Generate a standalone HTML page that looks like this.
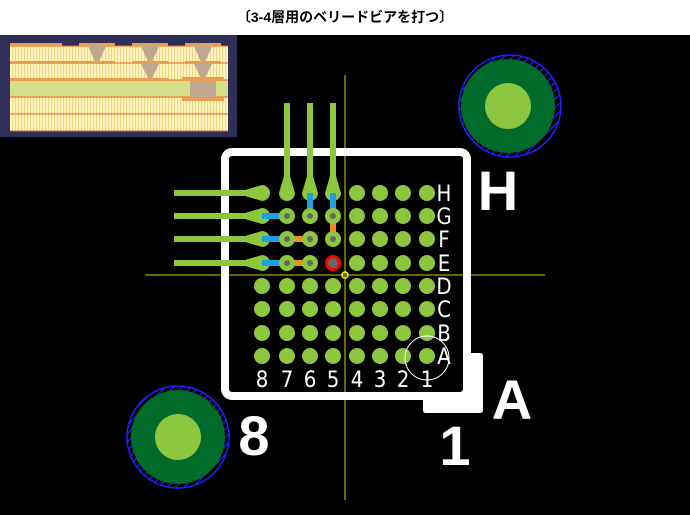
<!DOCTYPE html>
<html><head><meta charset="utf-8"><style>
body{margin:0;width:690px;height:515px;background:#000;overflow:hidden;position:relative;font-family:"Liberation Sans","Noto Sans CJK JP",sans-serif}
#title{position:absolute;left:0;top:0;width:690px;height:35px;background:#fff;text-align:center;font-weight:bold;font-size:14px;line-height:34px;color:#000;font-family:"Liberation Sans","Noto Sans CJK JP",sans-serif}
</style></head><body>
<div id="title">〔3-4層用のベリードビアを打つ〕</div>
<svg width="690" height="515" style="position:absolute;left:0;top:0" xmlns="http://www.w3.org/2000/svg">
<defs>
<pattern id="st" width="3" height="10" patternUnits="userSpaceOnUse"><rect width="3" height="10" fill="#fff6c8"/><rect width="1.2" height="10" fill="#f0d880"/></pattern>
<pattern id="hb" width="6" height="6" patternUnits="userSpaceOnUse" patternTransform="rotate(45)"><rect width="1.3" height="6" fill="#2020ff"/></pattern>
</defs>
<rect x="0" y="35" width="237" height="102" fill="#2f2f58"/>
<rect x="10" y="46" width="218" height="85" fill="url(#st)"/>
<rect x="10" y="80" width="218" height="17" fill="#d6e08a"/>
<g stroke="#f06020" stroke-width="1"><line x1="10" y1="46" x2="228" y2="46"/><line x1="10" y1="63" x2="228" y2="63"/><line x1="10" y1="80" x2="228" y2="80"/><line x1="10" y1="97" x2="228" y2="97"/><line x1="10" y1="114" x2="228" y2="114"/><line x1="10" y1="131" x2="228" y2="131"/></g>
<g fill="#e8a050"><rect x="10" y="43" width="52" height="3"/><rect x="79" y="43" width="36" height="3"/><rect x="132" y="43" width="36" height="3"/><rect x="185" y="43" width="36" height="3"/>
<rect x="10" y="61" width="105" height="3"/><rect x="132" y="61" width="36" height="3"/><rect x="185" y="61" width="36" height="3"/>
<rect x="10" y="78" width="158" height="3"/><rect x="182" y="77" width="42" height="4"/><rect x="182" y="97" width="42" height="4"/></g>
<g fill="#c0a890"><polygon points="88,46 106,46 99,62 95,62"/><polygon points="141,46 159,46 152,62 148,62"/><polygon points="194,46 212,46 205,62 201,62"/><polygon points="141,64 159,64 152,78 148,78"/><polygon points="194,64 212,64 205,78 201,78"/><rect x="190" y="81" width="26" height="16"/></g>
<circle cx="510" cy="106" r="51" fill="url(#hb)" stroke="#2020ff" stroke-width="1.5"/>
<circle cx="508" cy="106" r="47" fill="#006b2a"/><circle cx="508" cy="106" r="23" fill="#8dc63f"/>
<circle cx="178" cy="437" r="51" fill="url(#hb)" stroke="#2020ff" stroke-width="1.5"/>
<circle cx="178" cy="437" r="47" fill="#006b2a"/><circle cx="178" cy="437" r="23" fill="#8dc63f"/>
<g stroke="#8a8a00" stroke-width="1.5"><line x1="345" y1="75" x2="345" y2="500"/><line x1="145" y1="275" x2="545" y2="275"/></g>
<rect x="225" y="152" width="242" height="244" rx="7" fill="none" stroke="#fff" stroke-width="8"/>
<path d="M463 353 H480 Q483 353 483 356 V410 Q483 413 480 413 H426 Q423 413 423 410 V392 H463 Z" fill="#fff"/>
<g stroke="#8dc63f" stroke-width="6"><line x1="174" y1="193" x2="262" y2="193"/><line x1="174" y1="216" x2="262" y2="216"/><line x1="174" y1="239" x2="262" y2="239"/><line x1="174" y1="263" x2="262" y2="263"/>
<line x1="287" y1="103" x2="287" y2="193"/><line x1="310" y1="103" x2="310" y2="193"/><line x1="333" y1="103" x2="333" y2="193"/></g>
<g fill="#8dc63f"><path d="M245 190 L262 185 A8 8 0 1 1 262 201 L245 196Z"/><path d="M245 213 L262 208 A8 8 0 1 1 262 224 L245 219Z"/><path d="M245 236 L262 231 A8 8 0 1 1 262 247 L245 242Z"/><path d="M245 260 L262 255 A8 8 0 1 1 262 271 L245 266Z"/>
<path d="M284 176 L279 193 A8 8 0 1 0 295 193 L290 176Z"/><path d="M307 176 L302 193 A8 8 0 1 0 318 193 L313 176Z"/><path d="M330 176 L325 193 A8 8 0 1 0 341 193 L336 176Z"/></g>
<g stroke="#1ea0e0" stroke-width="6"><line x1="262" y1="216" x2="287" y2="216"/><line x1="262" y1="239" x2="287" y2="239"/><line x1="262" y1="263" x2="287" y2="263"/><line x1="310" y1="193" x2="310" y2="216"/><line x1="333" y1="193" x2="333" y2="216"/></g>
<g stroke="#f08c28" stroke-width="6"><line x1="287" y1="239" x2="310" y2="239"/><line x1="287" y1="263" x2="310" y2="263"/><line x1="333" y1="216" x2="333" y2="239"/></g>
<g fill="#8dc63f">
<circle cx="357" cy="193" r="8"/><circle cx="380" cy="193" r="8"/><circle cx="403" cy="193" r="8"/><circle cx="427" cy="193" r="8"/>
<circle cx="287" cy="216" r="8"/><circle cx="310" cy="216" r="8"/><circle cx="333" cy="216" r="8"/><circle cx="357" cy="216" r="8"/><circle cx="380" cy="216" r="8"/><circle cx="403" cy="216" r="8"/><circle cx="427" cy="216" r="8"/>
<circle cx="287" cy="239" r="8"/><circle cx="310" cy="239" r="8"/><circle cx="333" cy="239" r="8"/><circle cx="357" cy="239" r="8"/><circle cx="380" cy="239" r="8"/><circle cx="403" cy="239" r="8"/><circle cx="427" cy="239" r="8"/>
<circle cx="287" cy="263" r="8"/><circle cx="310" cy="263" r="8"/><circle cx="357" cy="263" r="8"/><circle cx="380" cy="263" r="8"/><circle cx="403" cy="263" r="8"/><circle cx="427" cy="263" r="8"/>
</g>
<g fill="#8dc63f">
<g id="r"><circle cx="262" cy="286" r="8"/><circle cx="287" cy="286" r="8"/><circle cx="310" cy="286" r="8"/><circle cx="333" cy="286" r="8"/><circle cx="357" cy="286" r="8"/><circle cx="380" cy="286" r="8"/><circle cx="403" cy="286" r="8"/><circle cx="427" cy="286" r="8"/></g>
<use href="#r" y="23"/><use href="#r" y="47"/><use href="#r" y="70"/></g>
<g fill="#666"><circle cx="287" cy="216" r="3"/><circle cx="310" cy="216" r="3"/><circle cx="333" cy="216" r="3"/><circle cx="287" cy="239" r="3"/><circle cx="310" cy="239" r="3"/><circle cx="333" cy="239" r="3"/><circle cx="287" cy="263" r="3"/><circle cx="310" cy="263" r="3"/></g>
<circle cx="333" cy="263" r="6.5" fill="#666" stroke="#f00" stroke-width="3"/>
<circle cx="345" cy="275" r="3" fill="none" stroke="#ff0" stroke-width="1.5"/>
<circle cx="427" cy="358" r="22" fill="none" stroke="#fff" stroke-width="1"/>
<g fill="#fff" font-family="DejaVu Sans Condensed, DejaVu Sans, sans-serif" font-size="22" font-weight="200" text-anchor="middle">
<text x="444" y="201">H</text><text x="444" y="224">G</text><text x="444" y="247">F</text><text x="444" y="271">E</text><text x="444" y="294">D</text><text x="444" y="317">C</text><text x="444" y="341">B</text><text x="444" y="364">A</text>
<text x="262" y="387">8</text><text x="287" y="387">7</text><text x="310" y="387">6</text><text x="333" y="387">5</text><text x="357" y="387">4</text><text x="380" y="387">3</text><text x="403" y="387">2</text><text x="427" y="387">1</text>
</g>
<g fill="#fff" font-family="Liberation Sans, sans-serif" font-size="56" font-weight="bold" text-anchor="middle">
<text x="498" y="210">H</text><text x="512" y="419">A</text><text x="254" y="455">8</text><text x="455" y="465">1</text>
</g>
</svg>
</body></html>
